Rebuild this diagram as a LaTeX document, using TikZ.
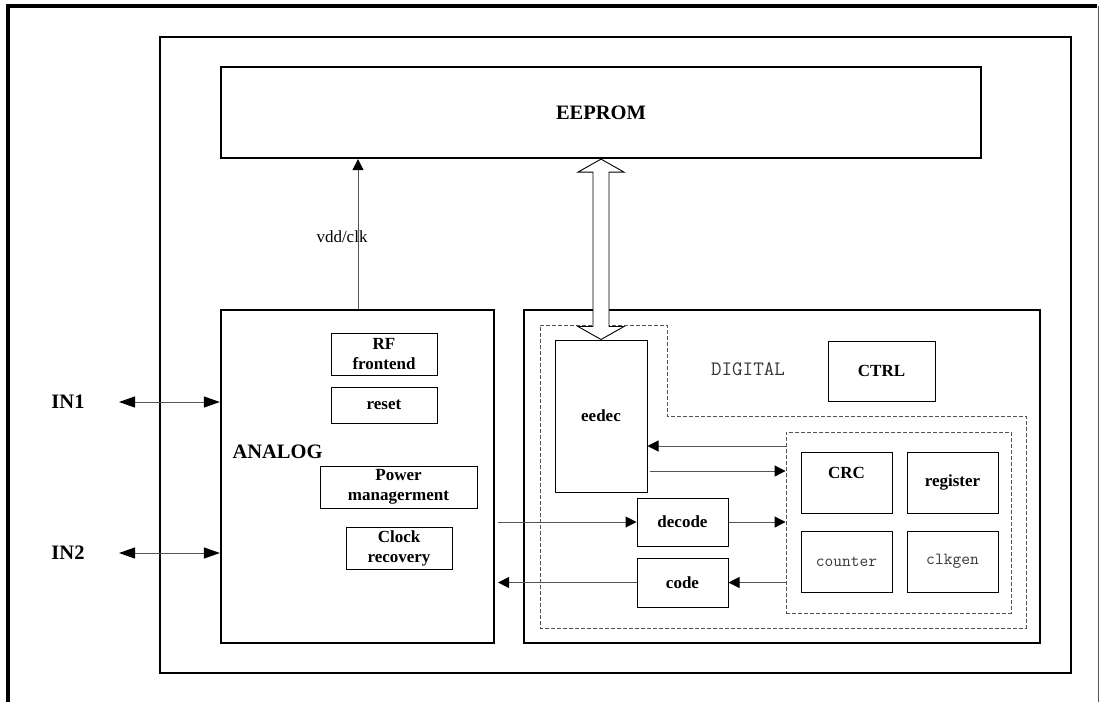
\documentclass[tikz,border=0pt]{standalone}
\usepackage{fontspec}
\setmainfont{Liberation Serif}
\usepackage{tikz}
\usetikzlibrary{positioning, arrows.meta}
\definecolor{lineGray}{RGB}{85,85,85}
\definecolor{textGray}{RGB}{55,55,55}
\newcommand{\bigBold}{\fontsize{20.5}{24}\selectfont\bfseries}
\newcommand{\smallBold}{\fontsize{17}{20}\selectfont\bfseries}
\newcommand{\smallPlain}{\fontsize{17}{20}\selectfont}
\newcommand{\smallMono}{\fontsize{17}{20}\selectfont\ttfamily}
\newcommand{\bigMono}{\fontsize{20.5}{24}\selectfont\ttfamily}
\tikzstyle{chart} = [x = 1pt, y = -1pt]
\tikzstyle{frameStyle} = [draw=black, line width=2.2pt, inner sep=0pt, font=\bigBold]
\tikzstyle{unitStyle} = [draw=black, line width=1pt, inner sep=0pt, align=center, font=\smallBold]
\tikzstyle{partStyle} = [draw=black, line width=1pt, inner sep=0pt, align=center, font=\smallMono, text=textGray]
\tikzstyle{groupStyle} = [draw=lineGray, line width=0.9pt, dash pattern=on 4pt off 2pt, inner sep=0pt]
\tikzstyle{signalArrow} = [draw=lineGray, line width=1pt, -{Triangle[length=11pt, width=11pt, color=black]}]
\tikzstyle{portArrow} = [draw=lineGray, line width=1pt, {Triangle[length=16pt, width=11pt, color=black]}-{Triangle[length=16pt, width=11pt, color=black]}]
\tikzstyle{busStyle} = [draw=black, line width=0.9pt, fill=white, line join=miter]
\newcommand{\frameBox}[6]{\node [frameStyle, minimum width=#4pt, minimum height=#5pt] (#1) at (#2, #3) {#6};}
\newcommand{\unitBox}[6]{\node [unitStyle, minimum width=#4pt, minimum height=#5pt] (#1) at (#2, #3) {#6};}
\newcommand{\partBox}[6]{\node [partStyle, minimum width=#4pt, minimum height=#5pt] (#1) at (#2, #3) {#6};}

\begin{document}
\begin{tikzpicture}[chart]
  \useasboundingbox (0,0) rectangle (1100,702);
  \draw [line width=4pt, line join=miter] (8,702) -- (8,6) -- (1097,6);
  \draw [lineGray, line width=1pt] (1098,6) -- (1098,702);

  \frameBox{chip}{615.5}{355}{911}{636}{}
  \frameBox{eeprom}{601}{112.5}{760}{91}{EEPROM}
  \frameBox{analog}{357.5}{476.5}{273}{333}{}
  \frameBox{digital}{782}{476.5}{516}{333}{}

  \unitBox{rf}{384}{354}{106}{42}{RF\\frontend}
  \unitBox{reset}{384}{405}{106}{36}{reset}
  \unitBox{power}{398.5}{487}{157}{42}{Power\\managerment}
  \unitBox{clock}{399}{548}{106}{42}{Clock\\recovery}
  \node [font=\bigBold, anchor=west] (analogLabel) at (229,452) {ANALOG};

  \draw [groupStyle] (540,325) -- (667,325) -- (667,416) -- (1026,416) -- (1026,628) -- (540,628) -- cycle;
  \node [groupStyle, minimum width=225pt, minimum height=181pt] (crcGroup) at (898.5,522.5) {};
  \node [font=\bigMono, text=textGray] (digitalLabel) at (748,369) {DIGITAL};
  \unitBox{eedec}{601}{416}{92}{152}{eedec}
  \unitBox{ctrl}{881.5}{371}{107}{60}{CTRL}
  \node [unitStyle, minimum width=91pt, minimum height=61pt, text height=12pt, text depth=21pt] (crc) at (846.5,482.5) {CRC};
  \unitBox{register}{952.5}{482.5}{91}{61}{register}
  \partBox{counter}{846.5}{561.5}{91}{61}{counter}
  \partBox{clkgen}{952.5}{561.5}{91}{61}{clkgen}
  \unitBox{decode}{682.5}{522}{91}{48}{decode}
  \unitBox{code}{682.5}{582.5}{91}{49}{code}

  \node [font=\bigBold] (inOne) at (68,402) {IN1};
  \node [font=\bigBold] (inTwo) at (68,553) {IN2};
  \coordinate (portOne) at (119,402);
  \coordinate (portTwo) at (119,553);
  \draw [portArrow] (portOne) -- (portOne -| analog.west);
  \draw [portArrow] (portTwo) -- (portTwo -| analog.west);

  \coordinate (vddX) at (358,0);
  \draw [signalArrow] (analog.north -| vddX) -- (eeprom.south -| vddX);
  \node [font=\smallPlain] (vddLabel) at (342,237) {vdd/clk};

  \coordinate (backY) at (0,446);
  \coordinate (forthY) at (0,471);
  \draw [signalArrow] (crcGroup.west |- backY) -- (eedec.east |- backY);
  \draw [signalArrow] ([xshift=2pt]eedec.east |- forthY) -- (crcGroup.west |- forthY);
  \draw [signalArrow] ([xshift=3pt]analog.east |- decode.west) -- (decode.west);
  \draw [signalArrow] (decode.east) -- (decode.east -| crcGroup.west);
  \draw [signalArrow] (code.east -| crcGroup.west) -- (code.east);
  \draw [signalArrow] (code.west) -- ([xshift=3pt]code.west -| analog.east);

  \coordinate (busTop) at (eeprom.south -| eedec.north);
  \coordinate (busBottom) at (eedec.north);
  \draw [busStyle] (busTop) -- ++(23,13) -- ++(-15,0) -- ([xshift=8pt, yshift=13pt]busBottom) -- ++(15,0) -- (busBottom) -- ++(-23,-13) -- ++(15,0) -- ([xshift=-8pt, yshift=-13pt]busTop) -- ++(-15,0) -- cycle;
\end{tikzpicture}
\end{document}
